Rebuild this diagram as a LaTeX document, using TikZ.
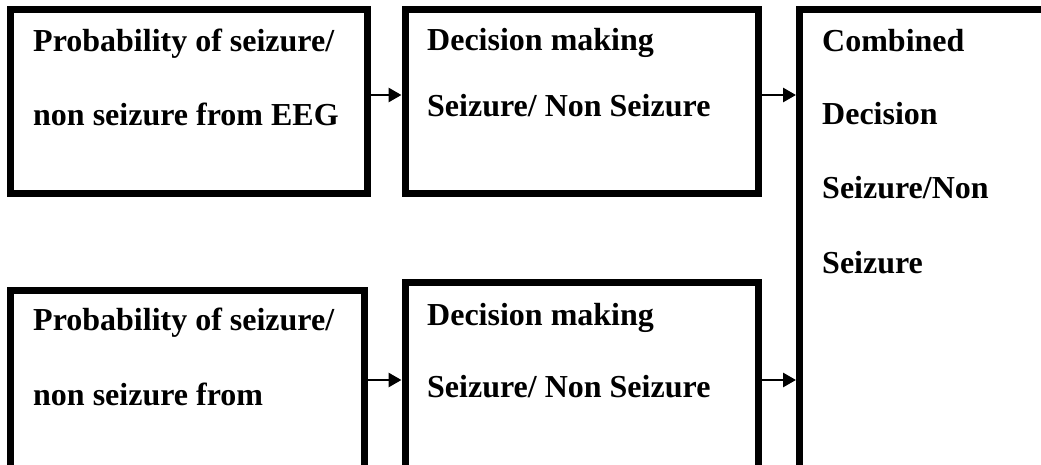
\documentclass[tikz,border=0pt]{standalone}
\usepackage{fontspec}
\setmainfont{Liberation Serif}
\usetikzlibrary{arrows.meta}
\begin{document}
\begin{tikzpicture}[x=1pt,y=-1pt,
  blockbox/.style={draw=black,line width=7pt,rectangle,inner sep=0pt,fill=none},
  lbl/.style={anchor=base west,inner sep=0pt,font=\fontsize{32}{32}\selectfont\bfseries},
  arr/.style={line width=2.8pt,-{Triangle[length=13pt,width=14pt]}}]
\useasboundingbox (0,0) rectangle (1041,465);
\clip (0,0) rectangle (1041,465);
% blocks (the lower and right ones run past the page edge)
\node[blockbox,minimum width=356.5pt,minimum height=184pt] (b1) at (188.75,101.5) {};
\node[blockbox,minimum width=353pt,minimum height=184.5pt] (b2) at (581.5,101.75) {};
\node[blockbox,minimum width=250.5pt,minimum height=470.5pt] (b3) at (924.75,244.75) {};
\node[blockbox,minimum width=353.5pt,minimum height=190pt] (b4) at (187.25,385) {};
\node[blockbox,minimum width=353pt,minimum height=197.5pt] (b5) at (581.5,381.25) {};
% texts
\node[lbl] (t1a) at (33,52) {Probability of seizure/};
\node[lbl] (t1b) at (33,126) {non seizure from EEG};
\node[lbl] (t2a) at (427,50.5) {Decision making};
\node[lbl] (t2b) at (427,116.5) {Seizure/ Non Seizure};
\node[lbl] (t3a) at (822,51.5) {Combined};
\node[lbl] (t3b) at (822,125) {Decision};
\node[lbl] (t3c) at (822,199) {Seizure/Non};
\node[lbl] (t3d) at (822,273) {Seizure};
\node[lbl] (t4a) at (33,330.5) {Probability of seizure/};
\node[lbl] (t4b) at (33,405) {non seizure from};
\node[lbl] (t5a) at (427,325) {Decision making};
\node[lbl] (t5b) at (427,397) {Seizure/ Non Seizure};
% connector rows
\coordinate (rowA) at (0,95);
\coordinate (rowB) at (0,380);
\draw[arr] (b1.east |- rowA) -- (b2.west |- rowA);
\draw[arr] (b2.east |- rowA) -- (b3.west |- rowA);
\draw[arr] (b4.east |- rowB) -- (b5.west |- rowB);
\draw[arr] (b5.east |- rowB) -- (b3.west |- rowB);
\end{tikzpicture}
\end{document}
